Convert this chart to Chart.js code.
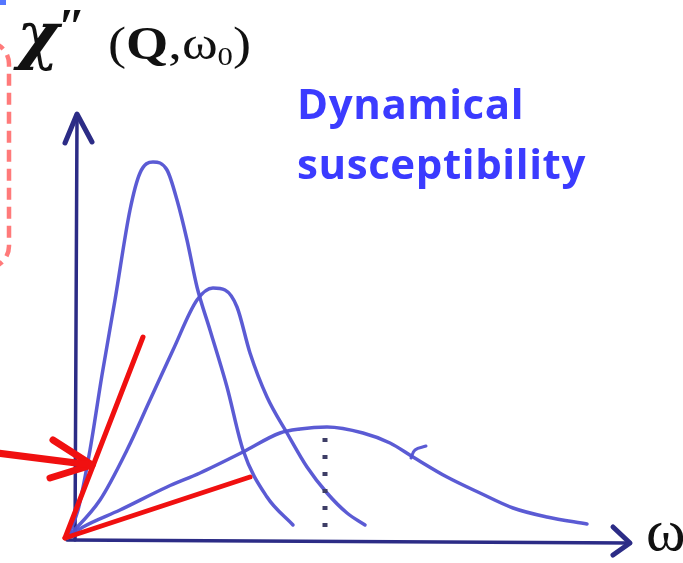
<!DOCTYPE html>
<html>
<head>
<meta charset="utf-8">
<script src="https://cdn.jsdelivr.net/npm/chart.js@4/dist/chart.umd.min.js"></script>
<style>
  html, body { margin: 0; padding: 0; background: #fff; }
  #wrap { position: relative; width: 683px; height: 563px; overflow: hidden; }
  #plot { position: absolute; left: 0; top: 0; }
  .lbl { position: absolute; white-space: nowrap; line-height: 1; }
  #chi { left: 17px; top: -3px; font: italic bold 64px "DejaVu Serif", serif; color: #111; }
  #prime { left: 58px; top: -3px; font: bold 50px "Liberation Serif", serif; color: #111; }
  #arg { left: 108px; top: 17px; font: 46px "Liberation Serif", serif; color: #111;
         transform: scaleX(1.18); transform-origin: left top; }
  #arg b { font-weight: bold; }
  #arg sub { font-size: 26px; vertical-align: -6px; }
  #title { left: 297px; top: 73px; font: bold 42px "Open Sans", sans-serif; color: #3b3bff;
           line-height: 60px; letter-spacing: 0.6px; }
  #omega { left: 646px; top: 496px; font: 60px "Liberation Serif", serif; color: #111; }
  #box { position: absolute; left: 0; top: 0; }
  #corner { position: absolute; left: 0; top: 0; width: 6px; height: 5px; background: #5577ff; }
</style>
</head>
<body>
<div id="wrap">
  <canvas id="plot" width="683" height="563"></canvas>
  <svg id="box" width="40" height="300">
    <rect x="-200" y="42" width="209" height="226" rx="22" ry="22"
          fill="none" stroke="#ff7a7a" stroke-width="4.5" stroke-dasharray="12 7"/>
  </svg>
  <div id="corner"></div>
  <div class="lbl" id="chi">χ</div>
  <div class="lbl" id="prime">″</div>
  <div class="lbl" id="arg">(<b>Q</b>,ω<sub>0</sub>)</div>
  <div class="lbl" id="title">Dynamical<br>susceptibility</div>
  <div class="lbl" id="omega">ω</div>
</div>
<script>
// chi''(Q, w0) sketch: three response curves as [omega, chi]
const curveNarrow = [
  [0, 0], [0.22, 0.56], [0.46, 1.76], [0.70, 3.26], [0.96, 4.76], [1.26, 6.56],
  [1.46, 7.30], [1.72, 7.52], [2.00, 7.36], [2.20, 6.76], [2.40, 5.96], [2.60, 5.02],
  [2.86, 4.16], [3.20, 3.02], [3.52, 1.76], [4.00, 0.82], [4.52, 0.26]
];
const curveMiddle = [
  [0, 0], [0.66, 0.76], [1.20, 1.76], [1.66, 2.76], [2.12, 3.76], [2.60, 4.76],
  [2.92, 5.00], [3.16, 4.96], [3.40, 4.62], [3.66, 3.70], [4.00, 2.82], [4.40, 2.10],
  [4.80, 1.42], [5.20, 0.90], [5.60, 0.50], [5.96, 0.26]
];
const curveBroad = [
  [0, 0], [0.32, 0.22], [1.06, 0.56], [2.00, 1.02], [2.66, 1.30], [3.52, 1.72],
  [4.26, 2.10], [4.66, 2.18], [5.20, 2.22], [5.92, 2.10], [6.46, 1.90], [6.92, 1.62],
  [7.60, 1.22], [8.26, 0.90], [8.92, 0.60], [9.60, 0.42], [10.40, 0.28]
];
const hookMark = [[6.88, 1.60], [6.96, 1.76], [7.18, 1.84]];
const peakMarker = [[5.16, 2.00], [5.16, 0.22]];

// red slope lines and pointer arrow
const slopeSteep = [[-0.04, 0], [1.52, 4.02]];
const slopeShallow = [[-0.04, 0], [3.66, 1.22]];
const arrowShaft = [[-1.4, 1.70], [0.50, 1.46]];
const arrowHead = [[-0.28, 1.96], [0.50, 1.46], [-0.34, 1.20]];

// axes
const yAxisLine = [[0.16, -0.04], [0.20, 8.40]];
const yAxisHead = [[-0.04, 7.90], [0.20, 8.48], [0.50, 7.92]];
const xAxisLine = [[0.0, -0.04], [11.26, -0.10]];
const xAxisHead = [[10.92, 0.22], [11.26, -0.10], [10.92, -0.34]];

const xRange = [-1.34, 12.32];
const yRange = [-0.5, 10.76];

const toPts = arr => arr.map(p => ({ x: p[0], y: p[1] }));

const blueCurve = "rgba(82, 82, 210, 0.95)";
const axisColor = "#2c2c86";
const red = "#f01010";

function seg(data, color, width, extra) {
  return Object.assign({
    data: toPts(data),
    showLine: true,
    borderColor: color,
    borderWidth: width,
    pointRadius: 0,
    tension: 0,
    borderCapStyle: "round",
    borderJoinStyle: "round",
    fill: false,
    clip: false
  }, extra || {});
}

document.addEventListener("DOMContentLoaded", () => {
  const ctx = document.getElementById("plot").getContext("2d");
  new Chart(ctx, {
    type: "scatter",
    data: {
      datasets: [
        seg(arrowShaft, red, 7),
        seg(arrowHead, red, 7),
        seg(slopeSteep, red, 5),
        seg(slopeShallow, red, 5),
        seg(peakMarker, "#3e3e66", 5, { borderDash: [4, 13], borderCapStyle: "butt" }),
        seg(hookMark, blueCurve, 3, { tension: 0.4 }),
        seg(curveNarrow, blueCurve, 3.5, { cubicInterpolationMode: "monotone" }),
        seg(curveMiddle, blueCurve, 3.5, { cubicInterpolationMode: "monotone" }),
        seg(curveBroad, blueCurve, 3.5, { cubicInterpolationMode: "monotone" }),
        seg(yAxisLine, axisColor, 3.5),
        seg(yAxisHead, axisColor, 5),
        seg(xAxisLine, axisColor, 3.5),
        seg(xAxisHead, axisColor, 5)
      ]
    },
    options: {
      responsive: false,
      animation: false,
      devicePixelRatio: 1,
      layout: { padding: 0 },
      plugins: {
        legend: { display: false },
        tooltip: { enabled: false }
      },
      scales: {
        x: { type: "linear", min: xRange[0], max: xRange[1], display: false },
        y: { type: "linear", min: yRange[0], max: yRange[1], display: false }
      }
    }
  });
});
</script>
</body>
</html>
